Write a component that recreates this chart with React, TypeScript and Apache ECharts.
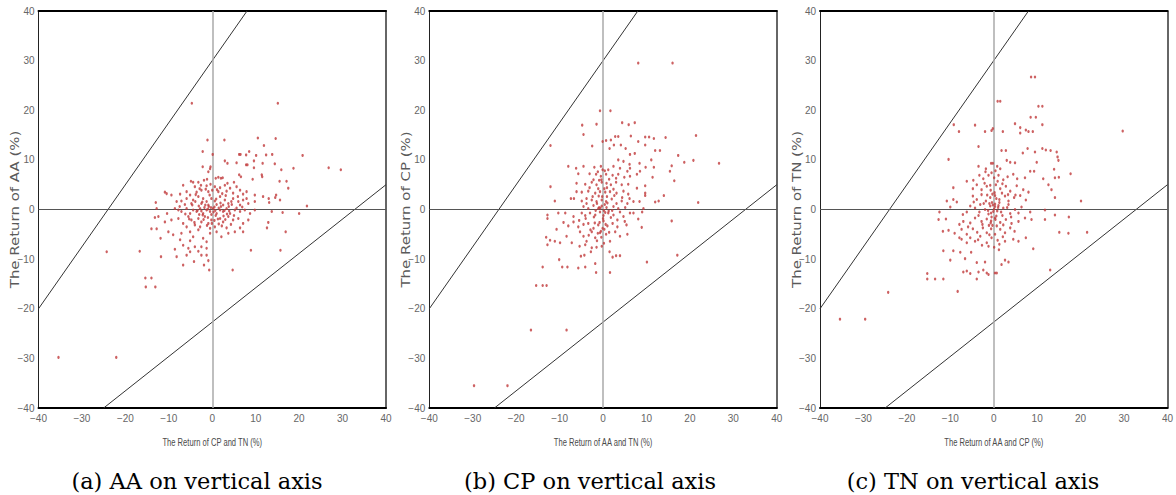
import React, { useEffect, useRef } from "react";
import * as echarts from "echarts";

// Panel (a): x = return of CP and TN, y = return of AA
const pointsAA: number[][] = [
  [-4.7,21.4],[15.1,21.4],[-1.1,14.0],[2.8,14.0],[10.5,14.4],[14.6,14.3],[11.9,12.9],[-2.2,11.7],[0.1,11.1],[6.2,11.1],[6.5,11.1],[7.8,11.0],[8.5,11.7],[10.1,10.9],[12.4,11.0],[13.8,11.1],[20.8,10.9],[2.9,9.8],[3.5,9.3],[5.6,9.4],[7.8,9.0],[8.1,9.0],[9.6,9.8],[9.6,8.4],[11.6,9.3],[14.4,9.2],[15.9,8.0],[18.7,8.3],[26.8,8.4],[29.6,8.0],[-2.2,8.6],[-0.4,8.6],[-0.5,8.2],[-0.9,7.6],[11.4,7.0],[11.5,6.6],[6.2,7.0],[15.5,5.7],[17.1,5.7],[17.5,4.3],[9.3,6.1],
  [1.4,6.5],[0.8,6.3],[2.0,6.3],[-4.9,5.7],[-4.4,5.5],[-1.9,5.9],[-1.2,6.1],[-3.2,5.5],[2.4,6.4],[3.5,5.3],[5.0,5.5],[6.6,6.6],
  [-6.7,4.9],[-4.0,4.6],[-2.6,4.9],[-1.3,4.8],[-0.4,5.1],[0.6,4.6],[1.8,4.4],[2.9,4.9],[4.1,4.3],[5.6,4.6],[6.4,3.9],[7.9,3.6],[9.8,2.9],[-5.9,3.6],[-3.6,3.5],[-2.5,3.9],[-0.9,3.6],[1.4,3.6],[3.3,3.7],[4.8,3.3],[7.1,3.1],[-10.9,3.5],[-10.5,3.2],[-9.4,2.9],[-7.4,3.1],[-5.1,2.9],
  [-8.2,1.6],[-7.1,1.7],[-5.9,2.2],[-4.4,1.9],[-3.2,2.6],[-2.1,2.2],[-1.3,1.6],[-0.2,2.2],[0.6,1.7],[1.8,2.6],[2.9,1.9],[3.7,1.2],[4.8,2.2],[6.0,1.6],[7.1,1.9],[8.3,1.2],[9.8,1.6],[11.7,2.6],[13.0,2.2],[-13.0,1.4],[-6.3,1.0],[-4.8,1.2],[-2.5,1.2],[-0.9,0.9],[1.0,1.0],[2.5,0.9],[4.5,1.0],[6.4,0.9],[7.9,2.2],[14.7,2.9],[14.5,2.4],[15.6,1.9],[13.1,1.4],
  [-12.8,0.2],[-10.4,-0.8],[-7.8,-0.1],[-7.1,-0.4],[-5.9,0.2],[-5.1,-0.8],[-4.4,-0.1],[-3.6,-0.4],[-2.8,0.2],[-2.1,-0.8],[-1.3,-0.1],[-0.5,-0.4],[0.2,0.2],[1.0,-0.8],[1.8,-0.1],[2.5,-0.4],[3.3,0.2],[4.1,-0.8],[5.2,-0.1],[6.4,-0.4],[7.5,-0.1],[8.7,-0.8],[9.8,-0.1],[13.7,-0.4],[16.2,-0.6],[20.0,-0.8],[21.8,0.7],[-8.6,0.2],
  [0.5,0.5],[-0.8,0.6],[1.5,0.3],[-1.8,0.4],[2.8,-0.2],[-0.2,-1.0],[0.8,-1.2],[-2.5,-0.3],[3.8,0.6],[-3.1,0.7],
  [-4.6,0.9],[-3.9,1.6],[-3.0,-1.0],[-2.3,1.5],[-1.6,0.9],[-1.0,-1.6],[-0.6,2.9],[0.3,-0.5],[0.9,2.1],[1.3,-1.9],[2.0,0.6],[2.6,-1.3],[3.1,2.8],[3.9,-0.3],[4.4,1.6],[5.0,-1.2],[5.6,0.3],[-5.3,-1.9],[-4.1,-2.6],[-3.4,-0.2],[-2.0,-2.0],[-1.2,-3.2],[-0.1,-2.8],[0.5,-2.2],[1.5,-2.9],[2.2,-3.3],[3.0,-2.0],[4.3,-3.0],[-3.8,3.0],[-2.9,4.2],[-1.5,4.1],[0.0,3.9],[1.1,4.0],[2.3,3.2],[-6.2,-0.9],[-7.5,0.6],[6.9,0.5],[5.9,2.6],[-0.3,0.4],[0.7,-0.2],[-1.0,0.1],[1.9,1.3],[-2.2,-1.1],[3.4,-0.9],
  [-13.2,-1.6],[-12.4,-1.4],[-10.9,-2.5],[-9.4,-2.1],[-7.8,-1.8],[-6.7,-2.8],[-5.5,-1.4],[-4.8,-2.1],[-4.0,-3.1],[-3.2,-1.8],[-2.5,-2.5],[-1.7,-1.4],[-0.9,-2.8],[-0.2,-2.1],[0.6,-3.5],[1.8,-1.8],[2.5,-2.5],[3.7,-1.4],[4.8,-2.1],[6.0,-1.8],[7.1,-2.8],[8.3,-2.1],[12.9,-2.6],[12.6,-3.7],[-5.9,-3.5],[-2.8,-3.5],[-0.5,-3.8],[3.3,-3.7],[6.4,-3.7],
  [-14.0,-3.9],[-12.8,-3.9],[-10.1,-4.5],[-9.0,-5.1],[-7.1,-4.8],[-5.1,-4.5],[-4.4,-5.5],[-3.2,-4.1],[-2.1,-5.8],[-0.5,-4.8],[1.0,-4.5],[2.1,-5.5],[3.7,-4.8],[5.2,-4.5],[7.1,-4.5],[16.9,-4.5],[-11.9,-5.8],[-7.4,-6.1],[-5.1,-6.3],[-1.3,-6.5],
  [-8.6,-8.0],[-6.7,-7.2],[-5.5,-7.8],[-4.0,-7.5],[-2.5,-7.5],[-1.3,-7.8],[-5.1,-8.5],[-3.2,-8.4],[8.9,-8.2],[15.7,-8.2],[-16.7,-8.4],[-24.3,-8.5],
  [-11.8,-9.5],[-8.2,-9.5],[-1.3,-9.2],[-0.9,-10.3],[-4.2,-10.5],[-6.7,-11.2],[-1.9,-11.2],[-0.7,-12.2],[4.7,-12.2],[-5.9,-9.2],[-2.5,-9.2],
  [-15.4,-13.8],[-14.0,-13.8],[-15.3,-15.6],[-13.1,-15.6],[-35.4,-29.8],[-22.1,-29.8]
];

// Panel (b): x = return of AA and TN, y = return of CP
const pointsCP: number[][] = [
  [8.1,29.5],[16.0,29.5],
  [-0.7,19.9],[1.7,19.9],[-4.8,17.0],[-1.5,17.2],[4.4,17.5],[5.9,17.1],[7.3,17.5],[-4.5,15.1],[3.5,14.7],[2.8,14.7],[6.4,14.8],[9.7,14.6],[10.6,14.6],[11.7,14.3],[14.4,14.5],[21.4,14.9],[-0.1,13.7],[0.7,13.9],[1.8,14.0],[4.1,13.0],[-2.5,12.8],[1.5,12.3],[2.5,13.0],[5.2,12.3],[8.1,13.7],[9.7,13.0],[12.0,11.9],[13.1,11.9],[6.2,11.1],[7.3,11.3],[-12.1,12.9],[17.3,10.9],[20.8,9.9],[18.7,9.5],[26.7,9.3],[11.1,10.0],[8.4,9.3],[6.1,9.1],[3.5,10.0],[4.7,9.7],
  [-8.0,8.7],[-6.2,8.3],[-4.5,8.7],[-2.0,8.5],[-0.5,8.7],[-0.1,8.0],[1.2,8.0],[2.4,8.7],[3.9,8.3],[5.6,7.7],[6.2,8.3],[8.5,7.7],[9.8,8.5],[11.7,8.5],[11.4,6.5],[15.8,8.8],[15.4,7.7],[16.4,5.8],
  [-5.7,7.2],[-3.1,7.2],[-1.6,7.1],[-0.5,6.7],[0.7,7.1],[2.2,6.9],[3.5,7.1],[4.9,6.5],[6.2,6.7],[7.8,7.1],
  [-12.1,4.6],[-6.1,5.3],[-4.1,5.1],[-2.6,5.5],[-1.5,5.0],[-0.3,5.5],[0.8,5.3],[1.8,5.0],[3.0,5.5],[4.3,5.0],[5.8,5.1],[7.8,4.3],[9.7,4.8],
  [-6.1,3.6],[-4.9,3.5],[-3.4,3.7],[-1.8,3.3],[-0.7,3.6],[0.5,3.5],[1.6,3.6],[3.1,3.3],[4.7,3.7],[5.8,3.1],[9.7,3.3],[9.7,2.8],[14.0,2.8],
  [-11.1,1.7],[-7.4,2.2],[-6.7,2.2],[-4.9,1.7],[-3.8,2.2],[-2.6,1.9],[-1.5,1.6],[-0.3,1.9],[0.7,1.6],[2.0,2.1],[3.1,1.2],[4.3,1.7],[5.6,1.2],[7.0,1.6],[8.4,1.6],[12.0,1.5],[12.8,1.7],[21.9,1.4],
  [-4.5,0.6],[-3.4,0.2],[-2.2,0.8],[-1.1,0.2],[-0.3,0.7],[0.8,0.4],[2.4,0.6],[3.5,0.2],[5.1,0.4],[9.3,0.2],
  [0.2,-0.2],[-0.6,0.3],[1.3,-0.3],[-1.7,-0.2],[0.4,1.0],[-0.2,2.6],[0.3,4.2],[-0.4,6.0],[0.1,-2.3],[-0.5,-4.4],
  [-0.9,0.4],[0.5,-0.6],[-1.4,1.2],[1.0,1.3],[-2.1,-1.5],[0.0,-1.8],[1.8,-1.6],[-0.8,-2.6],[0.6,-3.0],[-1.9,-2.7],[-2.9,-4.1],[-1.2,-4.8],[0.3,-4.0],[1.4,-4.6],[-3.3,-5.2],[-0.4,-5.6],[-1.4,-6.3],[0.2,-6.8],[-2.4,2.6],[-1.0,2.7],[0.9,2.6],[2.6,2.8],[-3.1,4.4],[-1.1,4.2],[0.9,4.4],[2.4,4.1],[-2.2,6.0],[-0.9,5.9],[1.4,6.1],[3.0,6.3],[-1.2,7.6],[0.4,7.8],[2.1,-0.2],[3.9,-0.5],[4.4,2.4],[-4.0,-1.8],[-5.5,-2.2],[-3.8,1.2],[6.1,2.2],[5.0,-2.4],
  [-12.8,-1.1],[-12.8,-1.8],[-10.3,-0.7],[-8.7,-0.7],[-6.8,-1.4],[-4.9,-0.7],[-4.1,-1.2],[-3.0,-0.7],[-1.8,-1.1],[-0.7,-0.5],[0.1,-1.2],[1.2,-0.7],[2.4,-1.1],[3.3,-2.1],[4.7,-1.4],[6.2,-0.7],[7.0,-0.7],[8.1,-1.9],[9.0,-0.5],[15.8,-2.3],
  [-9.1,-2.6],[-8.0,-3.3],[-6.8,-2.5],[-5.7,-3.5],[-4.5,-3.0],[-3.4,-2.8],[-2.2,-3.8],[-1.1,-3.1],[-0.1,-3.8],[1.0,-3.3],[2.2,-2.8],[3.3,-3.5],[5.4,-3.1],[8.9,-3.6],[-10.7,-4.0],
  [-13.1,-5.6],[-12.2,-6.2],[-11.1,-6.4],[-9.9,-6.7],[-8.4,-5.4],[-7.2,-6.7],[-5.3,-4.5],[-4.5,-5.4],[-3.8,-6.4],[-2.6,-4.5],[-1.8,-5.7],[-0.7,-4.7],[0.7,-5.0],[1.6,-6.4],[2.8,-4.5],[3.9,-5.4],[5.6,-5.0],[-12.8,-7.1],
  [-5.4,-7.4],[-4.1,-7.1],[-2.6,-7.7],[-1.5,-7.6],[-0.3,-7.4],[1.5,-8.5],[3.0,-9.3],[2.2,-9.6],[3.9,-9.3],[17.1,-9.2],[-2.8,-8.5],
  [-5.1,-9.4],[-4.3,-9.2],[-10.1,-10.1],[-13.9,-11.6],[-9.4,-11.6],[-8.2,-11.6],[-5.7,-11.8],[-4.1,-11.6],[-1.8,-10.9],[1.6,-12.7],[10.1,-10.6],[-1.6,-12.7],
  [-15.4,-15.3],[-13.9,-15.3],[-13.0,-15.3],[-16.6,-24.3],[-8.4,-24.3],[-29.7,-35.5],[-22.0,-35.5]
];

// Panel (c): x = return of AA and CP, y = return of TN
const pointsTN: number[][] = [
  [8.6,26.7],[9.5,26.7],[0.9,21.8],[1.5,21.8],[10.3,20.8],[11.2,20.8],[8.5,18.6],[9.7,18.6],[11.2,17.1],[4.9,17.3],[6.1,16.5],[6.1,15.4],[7.4,16.0],[8.0,15.7],[9.0,15.7],[-9.2,17.1],[-8.0,15.7],[-4.3,17.0],[-2.0,15.7],[-0.5,15.9],[-0.2,16.3],[2.1,15.7],[29.7,15.8],
  [-3.5,12.7],[1.8,11.9],[2.8,11.9],[6.7,11.4],[7.8,12.3],[9.5,11.6],[11.2,12.3],[12.0,12.0],[13.1,11.9],[14.5,11.6],[14.7,10.6],[14.9,9.9],[-10.4,10.1],[9.9,9.5],[3.0,9.9],[3.8,9.5],[4.9,9.4],[-0.6,9.3],[-0.2,9.3],[-3.5,8.7],[-1.8,8.2],[0.8,8.7],[1.5,8.2],[8.4,7.7],[9.3,7.7],[11.4,6.2],[13.9,8.1],[14.1,6.4],[15.0,6.5],[17.7,7.2],[12.6,5.0],[13.3,4.0],[14.1,2.4],[20.1,1.7],
  [-3.3,6.9],[-2.4,6.2],[-1.2,6.9],[0.1,6.4],[1.1,6.9],[2.2,6.0],[3.2,6.6],[4.5,7.1],[5.4,6.2],[7.2,6.4],[-6.2,5.7],[-4.7,5.9],
  [-9.3,4.4],[-4.8,4.2],[-3.9,5.0],[-2.8,4.0],[-1.6,4.7],[-0.7,3.9],[0.5,5.0],[1.5,4.2],[2.8,4.7],[3.8,3.7],[5.3,4.8],[6.8,4.0],[8.0,3.5],[-9.3,2.0],
  [-10.8,1.7],[-8.5,1.5],[-4.8,2.7],[-3.9,2.0],[-2.8,3.0],[-1.8,1.7],[-0.8,2.4],[0.3,2.8],[1.3,2.0],[2.6,2.7],[3.4,1.7],[4.7,2.4],[6.1,2.8],[7.4,1.9],[-10.0,0.5],
  [-5.4,0.7],[-4.3,0.3],[-3.1,1.0],[-2.0,0.0],[-0.8,0.7],[0.1,0.1],[1.1,0.8],[2.2,0.3],[3.4,1.0],[4.9,0.0],[6.4,0.5],[8.4,-0.5],[11.8,-0.1],[-7.1,-1.0],[-6.2,-0.5],[-12.5,-0.5],[-3.3,-0.5],[-0.6,-0.7],[1.7,-0.5],[3.8,-0.8],[5.7,-0.7],[14.1,-1.1],[17.3,-1.5],[8.7,-2.0],[11.8,-2.0],
  [0.3,0.6],[-0.4,1.4],[0.6,-1.3],[-1.3,-0.2],[0.2,3.4],[-0.3,-3.2],[0.4,-2.0],[-1.0,1.2],
  [-0.2,0.9],[0.8,-0.3],[-1.2,-0.9],[1.3,1.4],[-2.3,1.2],[2.0,-1.2],[-0.5,-1.5],[0.6,2.2],[-1.5,2.9],[-0.3,3.1],[1.9,3.3],[-2.6,-3.0],[-1.1,-3.2],[0.7,-3.3],[2.2,-3.1],[-3.5,-1.2],[3.1,0.4],[-0.8,4.9],[0.9,5.7],[-2.1,5.3],[2.0,5.2],[-3.6,-6.1],[-1.0,-5.1],[0.9,-6.2],[2.1,-5.5],[-2.7,-7.2],[0.1,-7.6],[1.3,-7.0],[-0.5,7.4],[0.4,7.8],[-1.9,7.6],[3.3,3.0],[4.0,-1.5],[-4.6,1.5],[-5.9,-3.5],[5.0,2.9],[-0.1,-0.4],[0.3,1.1],[-0.6,-2.3],[1.0,0.4],
  [-12.7,-2.0],[-11.0,-1.9],[-7.0,-2.4],[-5.4,-2.7],[-4.3,-1.7],[-2.8,-2.4],[-1.6,-1.9],[-0.7,-2.7],[0.3,-1.7],[1.5,-2.6],[2.8,-2.0],[4.1,-2.8],[5.7,-2.4],[7.2,-1.7],[-7.9,-3.0],
  [-11.7,-4.4],[-10.4,-4.2],[-9.0,-4.8],[-7.4,-4.0],[-6.2,-5.0],[-4.8,-3.9],[-3.8,-4.6],[-2.5,-3.7],[-1.6,-4.7],[-0.6,-3.9],[0.3,-5.0],[1.5,-4.0],[2.6,-4.7],[3.8,-3.7],[4.8,-4.4],[15.1,-4.6],[17.2,-4.8],[21.5,-4.6],
  [-7.9,-5.7],[-7.4,-6.0],[-6.2,-6.7],[-5.4,-5.7],[-4.3,-6.4],[-3.1,-5.4],[-1.6,-6.7],[-0.5,-5.7],[1.2,-8.1],[2.6,-6.4],[4.5,-6.0],[5.7,-6.4],[7.4,-5.7],[9.1,-7.9],[-11.6,-8.3],[-9.3,-8.3],
  [-7.7,-8.6],[-5.2,-8.6],[-10.0,-10.2],[-6.6,-9.9],[-3.9,-10.7],[-2.0,-10.6],[-1.2,-7.4],[2.6,-10.2],[3.4,-10.6],[1.8,-11.1],
  [-7.0,-12.6],[-6.2,-12.4],[-5.4,-12.9],[-3.5,-12.6],[-2.4,-12.2],[-1.6,-12.8],[-1.2,-13.1],[0.3,-12.8],[0.7,-12.8],[-15.3,-12.9],[-15.3,-14.0],[-13.5,-14.0],[-11.6,-14.0],[-3.9,-14.0],[13.0,-12.2],[-8.3,-16.5],
  [-24.3,-16.7],[-35.4,-22.1],[-29.6,-22.1]
];

// Boundary lines (same in every panel), as pairs of end points
const upperBoundary: number[][] = [[-40, -20], [8, 40]];
const lowerBoundary: number[][] = [[-25, -40], [40, 5]];

const axisMin = -40;
const axisMax = 40;
const tickStep = 10;

const xNames = ["The Return of CP and TN (%)", "The Return of AA and TN (%)", "The Return of AA and CP (%)"];
const yNames = ["The Return of AA (%)", "The Return of CP (%)", "The Return of TN (%)"];
const captions = ["(a) AA on vertical axis", "(b) CP on vertical axis", "(c) TN on vertical axis"];
const panels = [pointsAA, pointsCP, pointsTN];

// layout (pixels)
const gridLefts = [38.5, 429.3, 820];
const gridWidth = 347.5;
const gridTop = 11;
const gridHeight = 397;
const captionCenters = [197, 590, 973];

const fmt = (v: number) => String(v).replace("-", "\u2212");

export default function App() {
  const ref = useRef<HTMLDivElement>(null);
  useEffect(() => {
    if (!ref.current) return;
    const chart = echarts.init(ref.current, null, { renderer: "svg" });
    const grid: any[] = [];
    const xAxis: any[] = [];
    const yAxis: any[] = [];
    const series: any[] = [];
    const graphic: any[] = [];
    panels.forEach((pts, i) => {
      grid.push({ left: gridLefts[i], top: gridTop, width: gridWidth, height: gridHeight, containLabel: false });
      xAxis.push({
        type: "value", gridIndex: i, min: axisMin, max: axisMax, interval: tickStep, position: "bottom",
        axisLine: { show: true, onZero: false, lineStyle: { color: "#000", width: 2 } },
        axisTick: { show: false },
        axisLabel: { fontFamily: "'Liberation Sans', sans-serif", fontSize: 10, color: "#666", margin: 5, formatter: fmt },
        splitLine: { show: false },
      });
      xAxis.push({
        type: "value", gridIndex: i, min: axisMin, max: axisMax, position: "top",
        axisLine: { show: true, onZero: false, lineStyle: { color: "#000", width: 2 } },
        axisTick: { show: false }, axisLabel: { show: false }, splitLine: { show: false },
      });
      yAxis.push({
        type: "value", gridIndex: i, min: axisMin, max: axisMax, interval: tickStep, position: "left",
        axisLine: { show: true, onZero: false, lineStyle: { color: "#222", width: 1 } },
        axisTick: { show: false },
        axisLabel: { fontFamily: "'Liberation Sans', sans-serif", fontSize: 10, color: "#666", margin: 4, formatter: fmt },
        splitLine: { show: false },
      });
      yAxis.push({
        type: "value", gridIndex: i, min: axisMin, max: axisMax, position: "right",
        axisLine: { show: true, onZero: false, lineStyle: { color: "#333", width: 1.5 } },
        axisTick: { show: false }, axisLabel: { show: false }, splitLine: { show: false },
      });
      series.push({
        type: "scatter", xAxisIndex: 2 * i, yAxisIndex: 2 * i, data: pts,
        symbol: "circle", symbolSize: [2.4, 3], itemStyle: { color: "#c0393b" }, z: 5,
        markLine: {
          silent: true, symbol: ["none", "none"], label: { show: false },
          data: [
            { xAxis: 0, lineStyle: { color: "#aaaaaa", width: 1.5, type: "solid" } },
            { yAxis: 0, lineStyle: { color: "#555555", width: 1.2, type: "solid" } },
          ],
        },
      });
      [upperBoundary, lowerBoundary].forEach((b) => {
        series.push({
          type: "line", xAxisIndex: 2 * i, yAxisIndex: 2 * i, data: b, showSymbol: false, symbol: "none",
          lineStyle: { color: "#333", width: 1 }, z: 3, clip: true,
        });
      });
      graphic.push({
        type: "text", x: gridLefts[i] + gridWidth / 2, y: 442, scaleX: 0.66,
        style: { text: xNames[i], fontFamily: "'Liberation Sans', sans-serif", fontSize: 11.5, fill: "#4a4a4a", textAlign: "center", textVerticalAlign: "middle" },
      });
      graphic.push({
        type: "text", x: gridLefts[i] - 23, y: gridTop + gridHeight / 2, rotation: Math.PI / 2, scaleX: 1.3,
        style: { text: yNames[i], fontFamily: "'DejaVu Sans', sans-serif", fontSize: 11.5, fill: "#5a5a5a", textAlign: "center", textVerticalAlign: "middle" },
      });
      graphic.push({
        type: "text", x: captionCenters[i], y: 492,
        style: { text: captions[i], fontFamily: "'DejaVu Serif', serif", fontSize: 22.5, fill: "#000", textAlign: "center", textVerticalAlign: "bottom" },
      });
    });
    chart.setOption({ animation: false, backgroundColor: "#fff", grid, xAxis, yAxis, series, graphic });
    return () => chart.dispose();
  }, []);
  return <div ref={ref} style={{ position: "fixed", left: 0, top: 0, width: 1176, height: 495 }} />;
}
